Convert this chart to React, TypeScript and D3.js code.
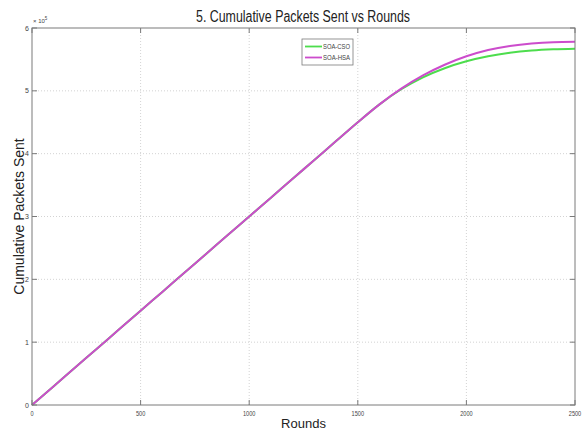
import React from "react";
import * as d3 from "d3";

// Rounds sampled every 100 rounds
const rounds = [0, 100, 200, 300, 400, 500, 600, 700, 800, 900, 1000, 1100, 1200, 1300, 1400, 1500, 1600, 1700, 1800, 1900, 2000, 2100, 2200, 2300, 2400, 2500];

// Cumulative packets sent (x 10^5)
const soaCso = [0, 0.3, 0.6, 0.9, 1.2, 1.5, 1.8, 2.1, 2.4, 2.7, 3.0, 3.3, 3.6, 3.9, 4.2, 4.5, 4.785, 5.025, 5.215, 5.36, 5.47, 5.55, 5.605, 5.64, 5.66, 5.67];
const soaHsa = [0, 0.3, 0.6, 0.9, 1.2, 1.5, 1.8, 2.1, 2.4, 2.7, 3.0, 3.3, 3.6, 3.9, 4.2, 4.5, 4.785, 5.035, 5.245, 5.415, 5.55, 5.65, 5.715, 5.755, 5.775, 5.78];

const seriesNames = ["SOA-CSO", "SOA-HSA"];
const seriesColors = ["#4ddd4d", "#cc4ccc"];

const xTicks = [0, 500, 1000, 1500, 2000, 2500];
const yTicks = [0, 1, 2, 3, 4, 5, 6];

const W = 582;
const H = 433;
const margin = { left: 32, right: 7, top: 28, bottom: 28 };

export default function App() {
  const x = d3.scaleLinear().domain([0, 2500]).range([margin.left, W - margin.right]);
  const y = d3.scaleLinear().domain([0, 6]).range([H - margin.bottom, margin.top]);

  const line = d3
    .line<number>()
    .x((_, i) => x(rounds[i]))
    .y((d) => y(d))
    .curve(d3.curveMonotoneX);

  const series = [soaCso, soaHsa];
  const x0 = x(0), x1 = x(2500), y0 = y(0), y1 = y(6);
  const axisColor = "#7a7a7a";
  const font = "Liberation Sans, Arial, sans-serif";

  return (
    <svg
      width={W}
      height={H}
      style={{ position: "absolute", left: 0, top: 0, background: "#fff" }}
      fontFamily={font}
    >
      {/* grid */}
      {xTicks.slice(1, -1).map((t) => (
        <line key={"gx" + t} x1={x(t)} x2={x(t)} y1={y0} y2={y1} stroke="#c8c8c8" strokeWidth={0.8} strokeDasharray="1,2" />
      ))}
      {yTicks.slice(1, -1).map((t) => (
        <line key={"gy" + t} x1={x0} x2={x1} y1={y(t)} y2={y(t)} stroke="#c8c8c8" strokeWidth={0.8} strokeDasharray="1,2" />
      ))}

      {/* series */}
      {series.map((s, i) => (
        <path key={seriesNames[i]} d={line(s) || ""} fill="none" stroke={seriesColors[i]} strokeWidth={2} />
      ))}

      {/* box */}
      <rect x={x0} y={y1} width={x1 - x0} height={y0 - y1} fill="none" stroke={axisColor} strokeWidth={1} />

      {/* ticks, inward on all sides */}
      {xTicks.map((t) => (
        <g key={"tx" + t}>
          <line x1={x(t)} x2={x(t)} y1={y0} y2={y0 - 5} stroke={axisColor} />
          <line x1={x(t)} x2={x(t)} y1={y1} y2={y1 + 5} stroke={axisColor} />
          <text x={x(t)} y={y0 + 11} fontSize={7} textAnchor="middle" fill="#444" transform={`translate(${x(t)},0) scale(0.8,1) translate(${-x(t)},0)`}>
            {t}
          </text>
        </g>
      ))}
      {yTicks.map((t) => (
        <g key={"ty" + t}>
          <line x1={x0} x2={x0 + 5} y1={y(t)} y2={y(t)} stroke={axisColor} />
          <line x1={x1} x2={x1 - 5} y1={y(t)} y2={y(t)} stroke={axisColor} />
          <text x={x0 - 3} y={y(t) + 2.5} fontSize={7} textAnchor="end" fill="#444">
            {t}
          </text>
        </g>
      ))}

      {/* exponent */}
      <text x={x0 + 1} y={y1 - 5} fontSize={6} fill="#444">
        × 10
        <tspan fontSize={4.5} dy={-3}>5</tspan>
      </text>

      {/* title */}
      <text x={196} y={21.5} fontSize={16} textLength={214} lengthAdjust="spacingAndGlyphs" fill="#222">
        5. Cumulative Packets Sent vs Rounds
      </text>

      {/* axis labels */}
      <text x={(x0 + x1) / 2} y={428} fontSize={13} textAnchor="middle" fill="#222">
        Rounds
      </text>
      <text
        transform={`translate(24,${(y0 + y1) / 2}) rotate(-90)`}
        fontSize={14}
        textAnchor="middle"
        fill="#222"
      >
        Cumulative Packets Sent
      </text>

      {/* legend */}
      <g>
        <rect x={302} y={39} width={51} height={26} fill="#fff" stroke={axisColor} strokeWidth={0.8} />
        {seriesNames.map((n, i) => (
          <g key={"lg" + n}>
            <line x1={305} x2={322} y1={46.5 + i * 11} y2={46.5 + i * 11} stroke={seriesColors[i]} strokeWidth={1.8} />
            <text x={323} y={49 + i * 11} fontSize={6.5} fill="#444" textLength={27} lengthAdjust="spacingAndGlyphs">
              {n}
            </text>
          </g>
        ))}
      </g>
    </svg>
  );
}
